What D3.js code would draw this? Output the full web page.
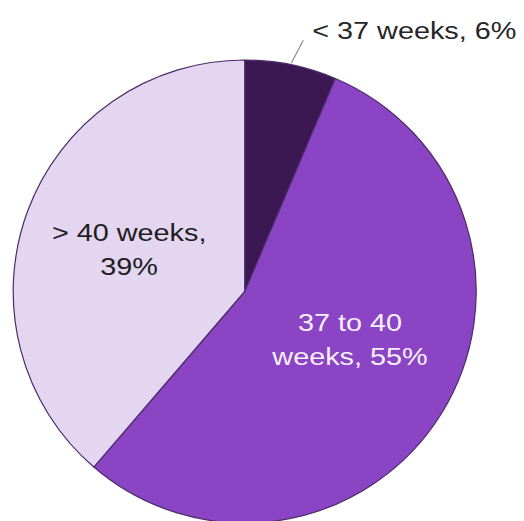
<!DOCTYPE html>
<html>
<head>
<meta charset="utf-8">
<script src="https://cdn.jsdelivr.net/npm/d3@7"></script>
<style>
  html, body { margin: 0; padding: 0; background: #fff; }
  svg { display: block; }
  text { font-family: "Liberation Sans", Arial, sans-serif; }
</style>
</head>
<body>
<div class="chart"></div>
<script>
// gestation at birth, share of births
var categories = ["< 37 weeks", "37 to 40 weeks", "> 40 weeks"];
var values = [6.4, 54.9, 38.7];
var colors = ["#3c1852", "#8b44c4", "#e4d5f1"];

var width = 524;
var height = 521;
var cx = 244.7;
var cy = 291.5;
var radius = 231.5;

var svg = d3.select(".chart")
    .append("svg")
    .attr("width", width)
    .attr("height", height);

var g = svg.append("g")
    .attr("transform", "translate(" + cx + "," + cy + ")");

var pie = d3.pie().sort(null).value(function(d) { return d; });
var arcs = pie(values);

var arc = d3.arc().innerRadius(0).outerRadius(radius);

// slices
g.selectAll("path.slice")
    .data(arcs)
    .enter()
    .append("path")
    .attr("class", "slice")
    .attr("d", arc)
    .attr("fill", function(d, i) { return colors[i]; })
    .attr("stroke", "#4b2c68")
    .attr("stroke-width", 1.2)
    .attr("stroke-linejoin", "round");

var fontSize = 24;
var stretch = 1.2;
var lineGap = 34;

function polar(angle, r) {
    return [Math.sin(angle) * r, -Math.cos(angle) * r];
}

function labelText(i) {
    return categories[i] + ", " + Math.round(values[i]) + "%";
}

//////// small slice: label outside with leader line
var a0 = arcs[0];
var mid0 = (a0.startAngle + a0.endAngle) / 2;
var p1 = polar(mid0, radius + 1.5);
var p2 = polar(mid0 + 0.028, radius + 26.5);

g.append("line")
    .attr("x1", p1[0]).attr("y1", p1[1])
    .attr("x2", p2[0]).attr("y2", p2[1])
    .attr("stroke", "#8c8c8c")
    .attr("stroke-width", 1.2);

g.append("text")
    .attr("transform", "translate(" + (p2[0] + 9) + "," + (p2[1] - 1) + ") scale(" + stretch + ",1)")
    .attr("font-size", fontSize)
    .attr("fill", "#262626")
    .text(labelText(0));

//////// inner labels, two lines each
var innerLabels = [
    { i: 1, lines: ["37 to 40", "weeks, " + Math.round(values[1]) + "%"], fill: "#f7f0fc", r: 115.7, shift: -0.128 },
    { i: 2, lines: ["> 40 weeks,", Math.round(values[2]) + "%"], fill: "#1e1e1e", r: 123, shift: -0.005 }
];

innerLabels.forEach(function(l) {
    var a = arcs[l.i];
    var mid = (a.startAngle + a.endAngle) / 2 + l.shift;
    var p = polar(mid, l.r);
    // vertical centre of the two-line block sits at p
    var firstBase = p[1] - lineGap / 2 + 8.5;
    l.lines.forEach(function(s, k) {
        g.append("text")
            .attr("transform", "translate(" + p[0] + "," + (firstBase + k * lineGap) + ") scale(" + stretch + ",1)")
            .attr("text-anchor", "middle")
            .attr("font-size", fontSize)
            .attr("fill", l.fill)
            .text(s);
    });
});
</script>
</body>
</html>
